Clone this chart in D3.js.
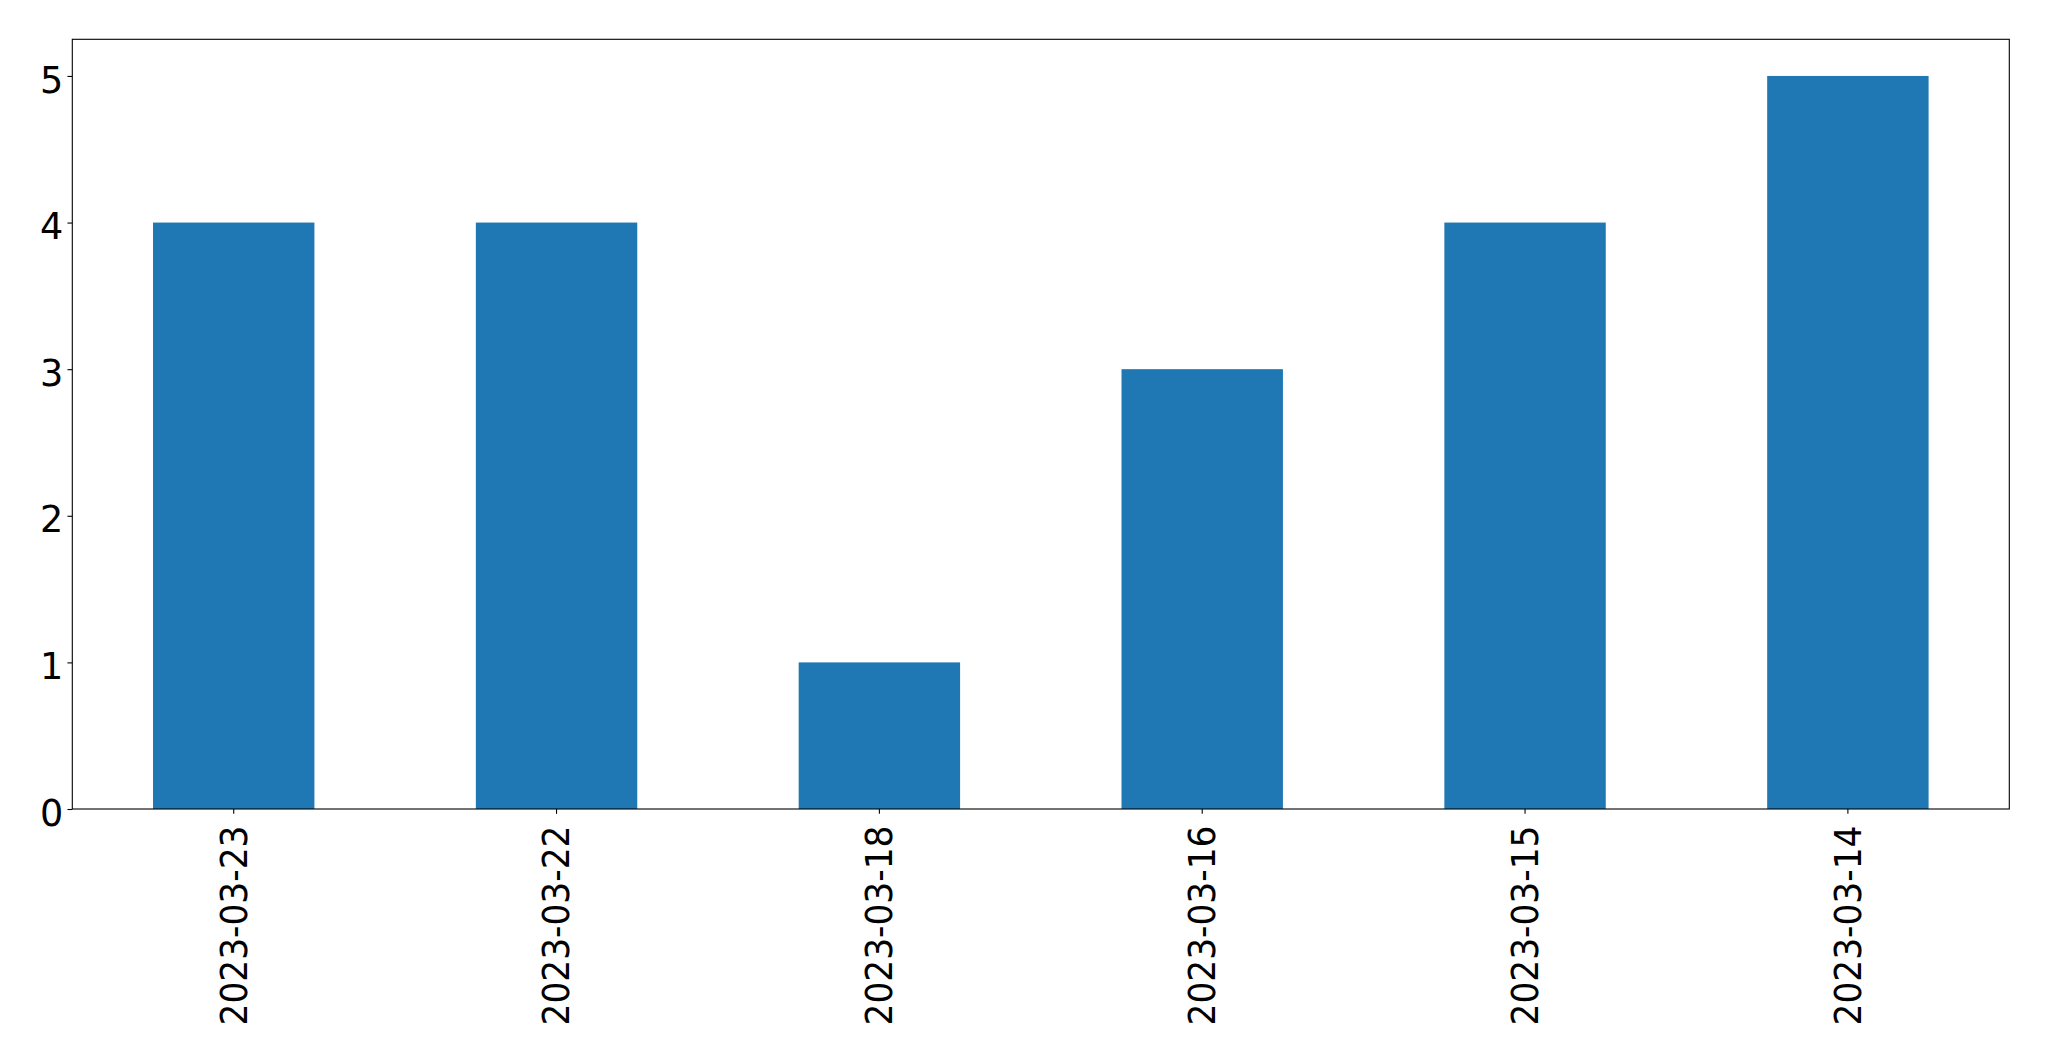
<!DOCTYPE html>
<html>
<head>
<meta charset="utf-8">
<script src="https://cdn.jsdelivr.net/npm/d3@7"></script>
<style>
  html, body { margin: 0; padding: 0; background: #fff; }
  svg { display: block; }
  text { font-family: "DejaVu Sans", sans-serif; }
</style>
</head>
<body>
<script>
const categories = ["2023-03-23", "2023-03-22", "2023-03-18", "2023-03-16", "2023-03-15", "2023-03-14"];
const values = [4, 4, 1, 3, 4, 5];
const yTicks = [0, 1, 2, 3, 4, 5];

const W = 2049, H = 1061;
const margin = { left: 72.3, top: 39.3, right: W - 2009.3, bottom: H - 809 };
const fontPx = 36.6;
const tickLen = 4.86;

const svg = d3.select("body").append("svg").attr("width", W).attr("height", H);

const x = d3.scaleBand()
  .domain(categories)
  .range([margin.left, W - margin.right])
  .paddingInner(0.5)
  .paddingOuter(0.25);

const y = d3.scaleLinear().domain([0, 5.25]).range([H - margin.bottom, margin.top]);

// bars
svg.append("g").selectAll("rect")
  .data(categories.map((c, i) => ({ c, v: values[i] })))
  .join("rect")
  .attr("x", d => x(d.c))
  .attr("width", x.bandwidth())
  .attr("y", d => y(d.v))
  .attr("height", d => y(0) - y(d.v))
  .attr("fill", "#1f77b4");

// y axis
const yAxis = d3.axisLeft(y).tickValues(yTicks).tickFormat(d3.format("d"))
  .tickSize(tickLen).tickPadding(4.1);
const gy = svg.append("g").attr("transform", `translate(${margin.left},0)`).call(yAxis);
gy.select(".domain").remove();
gy.selectAll(".tick line").attr("stroke", "#000").attr("stroke-width", 1.1);
gy.selectAll(".tick text").attr("font-size", fontPx).attr("fill", "#000")
  .attr("font-family", "DejaVu Sans, sans-serif").attr("dy", "0.44em");

// x axis
const xAxis = d3.axisBottom(x).tickSize(tickLen).tickPadding(4.86);
const gx = svg.append("g").attr("transform", `translate(0,${H - margin.bottom})`).call(xAxis);
gx.select(".domain").remove();
gx.selectAll(".tick line").attr("stroke", "#000").attr("stroke-width", 1.1);
gx.selectAll(".tick text")
  .attr("font-size", fontPx).attr("fill", "#000")
  .attr("font-family", "DejaVu Sans, sans-serif")
  .attr("text-anchor", "end")
  .attr("transform", "translate(0,16.6) rotate(-90) scale(0.94,1)")
  .attr("x", 0).attr("y", 0).attr("dy", "0.35em");

// frame
svg.append("rect")
  .attr("x", margin.left).attr("y", margin.top)
  .attr("width", W - margin.right - margin.left)
  .attr("height", H - margin.bottom - margin.top)
  .attr("fill", "none").attr("stroke", "#000").attr("stroke-width", 1.1);
</script>
</body>
</html>
